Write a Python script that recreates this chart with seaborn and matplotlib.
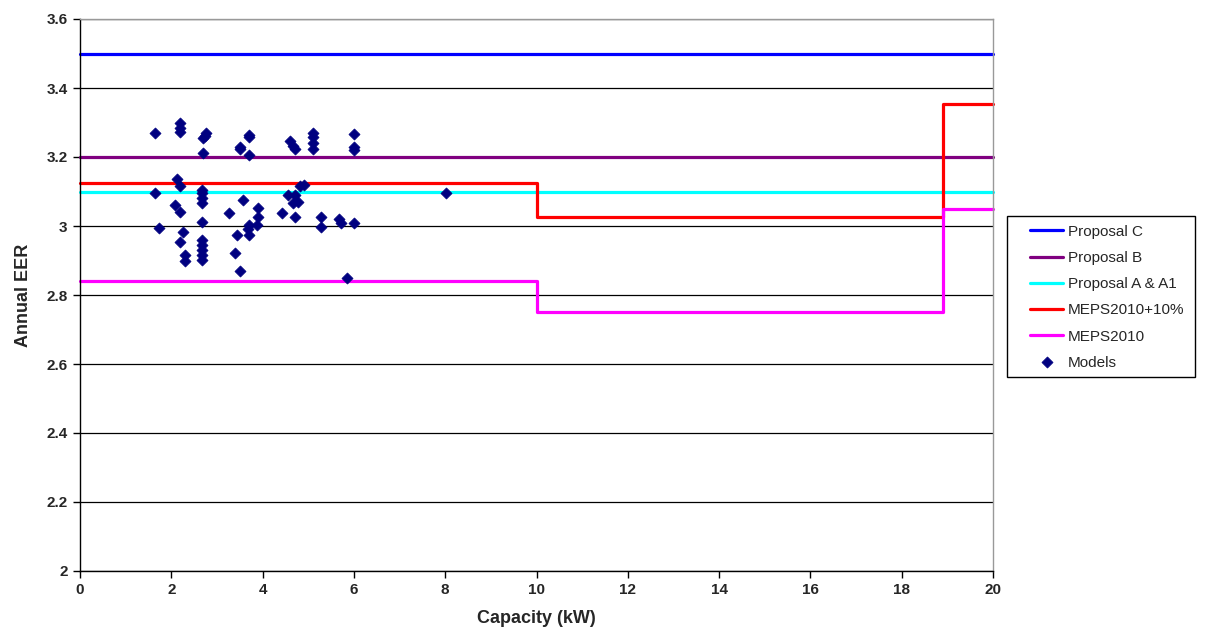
import matplotlib
matplotlib.use("Agg")
import matplotlib.pyplot as plt
import seaborn as sns
import pandas as pd
from matplotlib.patches import Rectangle

# proposal levels (flat across the capacity range)
range_x = [0, 20]
proposal_c = [3.5, 3.5]
proposal_b = [3.2, 3.2]
proposal_a = [3.1, 3.1]

# MEPS step lines
step_x = [0, 10, 18.9, 20]
meps_plus10 = [3.125, 3.025, 3.355, 3.355]
meps_2010 = [2.84, 2.75, 3.05, 3.05]

# registered models (capacity kW, annual EER)
model_kw = [1.64, 1.64, 1.74, 2.08, 2.13, 2.19, 2.2, 2.25, 2.2, 2.3, 2.3,
            2.19, 2.19, 2.19, 2.67, 2.67, 2.67, 2.67, 2.67, 2.67, 2.67,
            2.67, 2.67, 2.67, 2.7, 2.77, 2.74, 2.7, 3.26, 3.4, 3.45, 3.5,
            3.5, 3.5, 3.56, 3.71, 3.71, 3.71, 3.71, 3.69, 3.71, 3.88, 3.9,
            3.9, 4.42, 4.56, 4.6, 4.67, 4.71, 4.71, 4.67, 4.78, 4.82, 4.91,
            4.71, 5.11, 5.11, 5.11, 5.11, 5.29, 5.27, 5.68, 5.71, 5.85, 6.0,
            6.0, 6.0, 6.0, 8.02]
model_eer = [3.269, 3.095, 2.994, 3.062, 3.135, 3.115, 3.04, 2.982, 2.953,
             2.917, 2.9, 3.298, 3.285, 3.272, 3.105, 3.095, 3.081, 3.067,
             3.013, 2.958, 2.946, 2.931, 2.917, 2.902, 3.255, 3.269, 3.262,
             3.213, 3.038, 2.922, 2.973, 3.229, 3.222, 2.869, 3.076, 3.264,
             3.206, 3.258, 3.004, 2.99, 2.975, 3.004, 3.052, 3.026, 3.038,
             3.09, 3.245, 3.232, 3.223, 3.09, 3.067, 3.071, 3.117, 3.12,
             3.026, 3.269, 3.258, 3.24, 3.223, 3.026, 2.997, 3.02, 3.009,
             2.85, 3.267, 3.23, 3.221, 3.009, 3.096]

y_ticks = [2, 2.2, 2.4, 2.6, 2.8, 3, 3.2, 3.4, 3.6]
y_tick_labels = ["2", "2.2", "2.4", "2.6", "2.8", "3", "3.2", "3.4", "3.6"]
x_ticks = list(range(0, 21, 2))

sns.set_style("white")
plt.rcParams["font.family"] = ["Liberation Sans", "DejaVu Sans"]

fig = plt.figure(figsize=(12.06, 6.38), dpi=100)
ax = fig.add_axes([80 / 1206, 67 / 638, 913 / 1206, 552 / 638])

lw = 2.3
sns.lineplot(x=range_x, y=proposal_c, color="#0000FF", lw=lw, ax=ax, label="Proposal C")
sns.lineplot(x=range_x, y=proposal_b, color="#800080", lw=lw, ax=ax, label="Proposal B")
sns.lineplot(x=range_x, y=proposal_a, color="#00FFFF", lw=lw, ax=ax, label="Proposal A & A1")
sns.lineplot(x=step_x, y=meps_plus10, color="#FF0000", lw=lw, ax=ax, drawstyle="steps-post",
             estimator=None, sort=False, label="MEPS2010+10%")
sns.lineplot(x=step_x, y=meps_2010, color="#FF00FF", lw=lw, ax=ax, drawstyle="steps-post",
             estimator=None, sort=False, label="MEPS2010")
models = pd.DataFrame({"kw": model_kw, "eer": model_eer})
sns.scatterplot(data=models, x="kw", y="eer", marker="D", s=32, color="#000080",
                edgecolor="#000080", linewidth=0.5, ax=ax, label="Models", zorder=5)

for ln in ax.lines:
    ln.set_clip_on(False)

ax.set_xlim(0, 20)
ax.set_ylim(2, 3.6)
ax.set_xticks(x_ticks)
ax.set_yticks(y_ticks)
ax.set_yticklabels(y_tick_labels)
ax.tick_params(axis="both", direction="out", length=5, width=1, color="black",
               labelsize=11, pad=4, bottom=True, left=True)
for lab in ax.get_xticklabels() + ax.get_yticklabels():
    lab.set_fontweight("bold")

# Excel style grid
ax.yaxis.grid(True, color="black", lw=0.9)
ax.set_axisbelow(True)
ax.spines["left"].set_color("black")
ax.spines["bottom"].set_color("black")
ax.spines["top"].set_color("#999999")
ax.spines["right"].set_color("#999999")
for sp in ax.spines.values():
    sp.set_linewidth(1)

ax.set_xlabel("Capacity (kW)", fontsize=13, fontweight="bold", labelpad=9)
ax.set_ylabel("Annual EER", fontsize=13, fontweight="bold", labelpad=10)

# legend box drawn separately so the padding matches the Excel one
fig.patches.append(Rectangle((1007 / 1206, 1 - 377 / 638), 188 / 1206, 161 / 638,
                             transform=fig.transFigure, facecolor="white",
                             edgecolor="black", lw=1, zorder=0))
handles, labels = ax.get_legend_handles_labels()
ax.legend_.remove()
leg = fig.legend(handles, labels, loc="upper left", bbox_to_anchor=(1016 / 1206, 1 - 211 / 638),
                 fontsize=11, frameon=False, handlelength=2.2, scatteryoffsets=[0.5],
                 handletextpad=0.3, labelspacing=0.8, borderpad=0.4)

fig.savefig("out.png", dpi=100)
